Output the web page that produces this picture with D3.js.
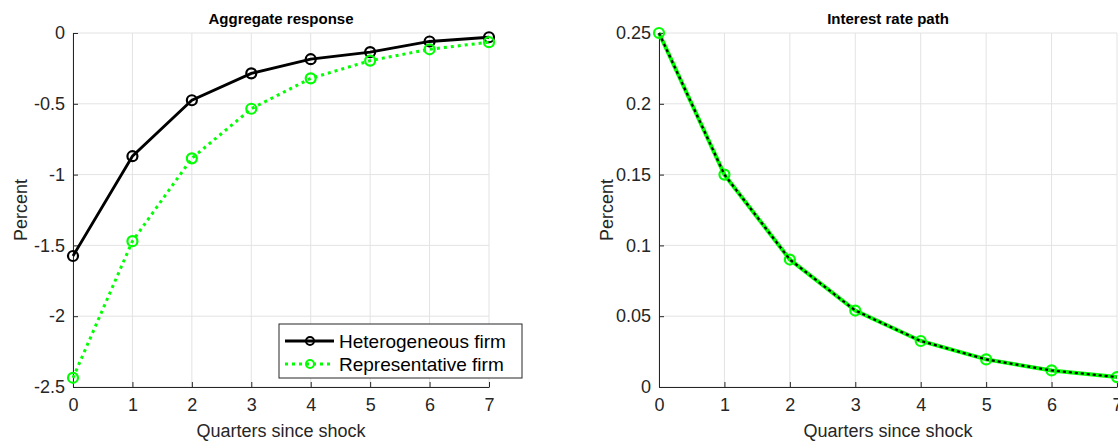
<!DOCTYPE html>
<html>
<head>
<meta charset="utf-8">
<style>
  body { margin: 0; background: #fff; }
  svg { display: block; font-family: "Liberation Sans", Arial, sans-serif; }
</style>
</head>
<body>
<svg id="chart"></svg>
<script src="https://d3js.org/d3.v7.min.js"></script>
<script>
  var quarters = [0, 1, 2, 3, 4, 5, 6, 7];
  var hetFirm = [-1.575, -0.87, -0.475, -0.285, -0.185, -0.135, -0.06, -0.03];
  var repFirm = [-2.435, -1.47, -0.885, -0.535, -0.32, -0.195, -0.115, -0.065];
  var ratePath = [0.25, 0.15, 0.09, 0.054, 0.0325, 0.0195, 0.0117, 0.007];
  var leftTicks = [0, -0.5, -1, -1.5, -2, -2.5];
  var rightTicks = [0, 0.05, 0.1, 0.15, 0.2, 0.25];

  var W = 1118, H = 442;
  var svg = d3.select("#chart").attr("width", W).attr("height", H);
  var green = "#00ff00", ink = "#262626";

  function panel(opt) {
    var x = d3.scaleLinear().domain([0, 7]).range([opt.x0, opt.x1]);
    var y = d3.scaleLinear().domain(opt.domain).range([387, 33]);
    var g = svg.append("g");

    // grid
    g.selectAll(".gx").data(quarters).enter().append("line")
      .attr("x1", d => x(d)).attr("x2", d => x(d))
      .attr("y1", 33).attr("y2", 387)
      .attr("stroke", "#e3e3e3").attr("stroke-width", 1);
    g.selectAll(".gy").data(opt.ticks).enter().append("line")
      .attr("x1", opt.x0).attr("x2", opt.x1)
      .attr("y1", d => y(d)).attr("y2", d => y(d))
      .attr("stroke", "#e3e3e3").attr("stroke-width", 1);

    var xAxis = g.append("g").attr("transform", "translate(0,387)")
      .call(d3.axisBottom(x).tickValues(quarters).tickSizeInner(-5).tickSizeOuter(0).tickPadding(11).tickFormat(d3.format("d")));
    var yAxis = g.append("g").attr("transform", "translate(" + opt.x0 + ",0)")
      .call(d3.axisLeft(y).tickValues(opt.ticks).tickSizeInner(-5).tickSizeOuter(0).tickPadding(8).tickFormat(opt.fmt));
    [xAxis, yAxis].forEach(function(a) {
      a.select(".domain").attr("stroke", ink).attr("stroke-width", 1);
      a.selectAll(".tick line").attr("stroke", ink);
      a.selectAll(".tick text").attr("fill", ink).style("font-size", "18px");
    });

    g.append("text").attr("x", (opt.x0 + opt.x1) / 2).attr("y", 24)
      .attr("text-anchor", "middle").style("font-size", "15px").style("font-weight", "bold")
      .attr("fill", "#000").text(opt.title);
    g.append("text").attr("x", (opt.x0 + opt.x1) / 2).attr("y", 437)
      .attr("text-anchor", "middle").style("font-size", "18px").attr("fill", ink)
      .text("Quarters since shock");
    g.append("text").attr("transform", "translate(" + opt.ylab + ",210) rotate(-90)")
      .attr("text-anchor", "middle").style("font-size", "18px").attr("fill", ink)
      .text("Percent");

    return {g: g, x: x, y: y};
  }

  function series(p, vals, color, width, dash, marker) {
    var line = d3.line().x((d, i) => p.x(quarters[i])).y(d => p.y(d));
    p.g.append("path").datum(vals).attr("d", line)
      .attr("fill", "none").attr("stroke", color).attr("stroke-width", width)
      .attr("stroke-dasharray", dash);
    if (marker) {
      p.g.selectAll(null).data(vals).enter().append("circle")
        .attr("cx", (d, i) => p.x(quarters[i])).attr("cy", d => p.y(d))
        .attr("r", 5).attr("fill", "none").attr("stroke", color).attr("stroke-width", 2.2);
    }
  }

  var left = panel({x0: 73, x1: 489, domain: [-2.5, 0], ticks: leftTicks,
    fmt: d => d === 0 ? "0" : String(d), title: "Aggregate response", ylab: 27});
  series(left, hetFirm, "#000", 2.8, null, true);
  series(left, repFirm, green, 3, "3,4", true);

  var right = panel({x0: 659, x1: 1117, domain: [0, 0.25], ticks: rightTicks,
    fmt: d => d === 0 ? "0" : String(d), title: "Interest rate path", ylab: 613});
  series(right, ratePath, green, 4, null, true);
  series(right, ratePath, "#000", 2.2, "3,3", false);

  // legend
  var lg = left.g.append("g");
  lg.append("rect").attr("x", 279).attr("y", 324).attr("width", 243).attr("height", 54)
    .attr("fill", "#fff").attr("stroke", ink).attr("stroke-width", 1);
  var legendItems = [
    {name: "Heterogeneous firm", color: "#000", dash: null, w: 2.8},
    {name: "Representative firm", color: green, dash: "3,4", w: 3}
  ];
  legendItems.forEach(function(d, i) {
    var yy = 341 + i * 23;
    lg.append("line").attr("x1", 285).attr("x2", 334).attr("y1", yy).attr("y2", yy)
      .attr("stroke", d.color).attr("stroke-width", d.w).attr("stroke-dasharray", d.dash);
    lg.append("circle").attr("cx", 310).attr("cy", yy).attr("r", 4)
      .attr("fill", "none").attr("stroke", d.color).attr("stroke-width", 2);
    lg.append("text").attr("x", 339).attr("y", yy + 7).style("font-size", "19px")
      .attr("fill", "#000").text(d.name);
  });
</script>
</body>
</html>
